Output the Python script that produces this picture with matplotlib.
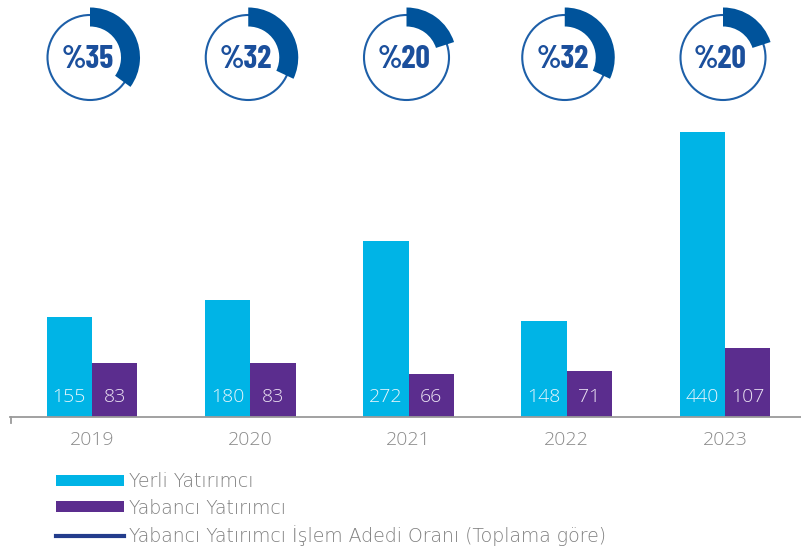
import matplotlib
matplotlib.use("Agg")
import matplotlib.pyplot as plt
from matplotlib.patches import Patch
from matplotlib.lines import Line2D

years = ["2019", "2020", "2021", "2022", "2023"]
yerli = [155, 180, 272, 148, 440]
yabanci = [83, 83, 66, 71, 107]
oran = [35, 32, 20, 32, 20]
legend_labels = ["Yerli Yatırımcı", "Yabancı Yatırımcı",
                 "Yabancı Yatırımcı İşlem Adedi Oranı (Toplama göre)"]

C_YERLI = "#00B4E6"
C_YAB = "#5B2D8E"
C_RING = "#00539B"
C_TEXT = "#1B4F9C"
C_GRAY = "#8a8a8a"
C_LINE = "#233C8C"
FONT = "Open Sans"

W, H = 801, 547
fig = plt.figure(figsize=(W / 100, H / 100), dpi=100)
fig.patch.set_facecolor("white")

def px(x0, y0, x1, y1):
    # pixel box (top-left origin) -> figure fraction rect
    return [x0 / W, (H - y1) / H, (x1 - x0) / W, (y1 - y0) / H]

base_y, top_y = 417, 132
g0, gs = 92.0, 158.25
left_px, right_px = 10, 801
ax = fig.add_axes(px(left_px, top_y, right_px, base_y))
ax.set_facecolor("none")
ax.set_xlim((left_px - g0) / gs, (right_px - g0) / gs)
ax.set_ylim(0, 440)
w = 45.3 / gs
xs = list(range(len(years)))
ax.bar([x - w / 2 for x in xs], yerli, width=w, color=C_YERLI, clip_on=False)
ax.bar([x + w / 2 for x in xs], yabanci, width=w, color=C_YAB, clip_on=False)
for x, a, b in zip(xs, yerli, yabanci):
    ax.text(x - w / 2, 31, str(a), ha="center", va="center", color="#e6f5fc",
            fontsize=14, family=FONT, fontweight=300)
    ax.text(x + w / 2, 31, str(b), ha="center", va="center", color="#ece4f3",
            fontsize=14, family=FONT, fontweight=300)
for s in ["top", "right", "left"]:
    ax.spines[s].set_visible(False)
ax.spines["bottom"].set_color("#9a9a9a")
ax.spines["bottom"].set_linewidth(1.3)
ax.set_yticks([])
ax.set_xticks(xs)
ax.set_xticklabels(years, fontsize=14, color=C_GRAY, family=FONT, fontweight=300)
ax.tick_params(axis="x", length=0, pad=10)
ax.plot([0.0015, 0.0015], [0, -0.02], transform=ax.transAxes, color="#9a9a9a",
        lw=1.3, clip_on=False)

# donuts
cy = 57.5
R = 50
for i, p in enumerate(oran):
    cx = g0 + gs * i - 2
    dax = fig.add_axes(px(cx - R, cy - R, cx + R, cy + R))
    dax.pie([p, 100 - p], startangle=90, counterclock=False,
            colors=[C_RING, "none"], radius=1.0,
            wedgeprops=dict(width=0.38, edgecolor="none", zorder=2))
    circ = plt.Circle((0, 0), 0.85, fill=False, edgecolor="#1D5FA8", lw=1.5,
                      zorder=1)
    dax.add_patch(circ)
    dax.set_xlim(-1, 1)
    dax.set_ylim(-1, 1)
    dax.set_aspect("equal")
    dax.axis("off")
    dax.text(-0.05, -0.05, f"%{p}", ha="center", va="center", color=C_TEXT,
             fontsize=23, fontweight="bold", family="Barlow Condensed", zorder=3)

handles = [Patch(facecolor=C_YERLI, edgecolor="none"),
           Patch(facecolor=C_YAB, edgecolor="none"),
           Line2D([0], [0], color=C_LINE, lw=3)]
fs = 13.6
em = fs * 100 / 72
fig.legend(handles, legend_labels, loc="upper left",
           bbox_to_anchor=(56 / W, (H - 472) / H), bbox_transform=fig.transFigure,
           frameon=False, handlelength=68 / em, handleheight=10 / em,
           handletextpad=5 / em, labelspacing=0.4, borderpad=0, borderaxespad=0,
           labelcolor="#7f7f7f",
           prop=dict(family="DejaVu Sans", size=fs, weight="light"))

fig.savefig("out.png", dpi=100, facecolor="white")
